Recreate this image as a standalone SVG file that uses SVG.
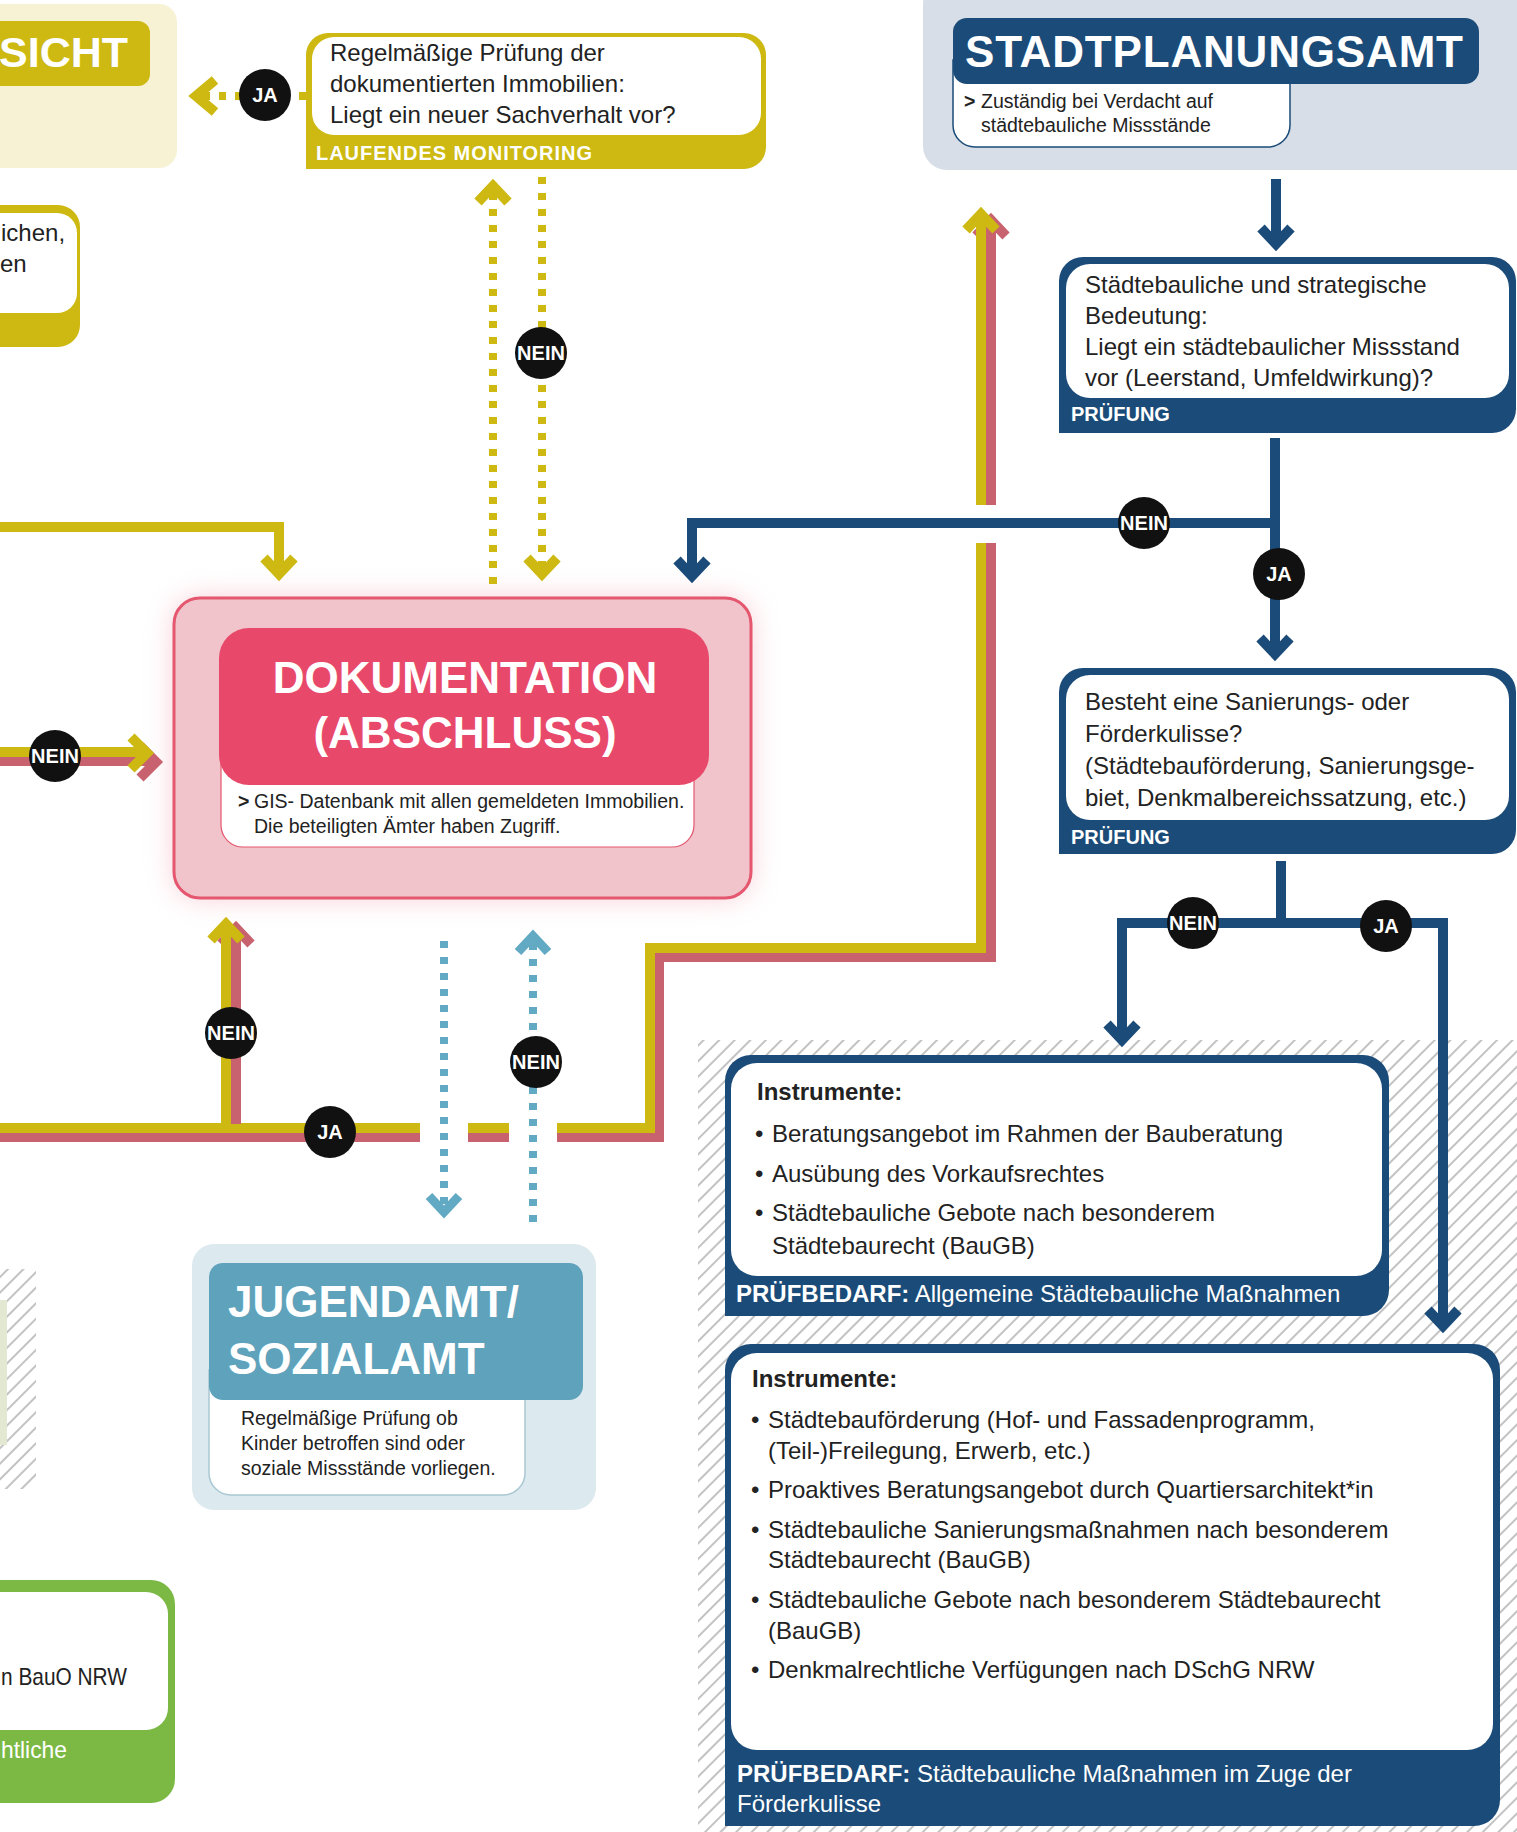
<svg xmlns="http://www.w3.org/2000/svg" width="1517" height="1832" viewBox="0 0 1517 1832">
<defs>
<pattern id="hatch" patternUnits="userSpaceOnUse" width="11" height="11" patternTransform="rotate(45)"><line x1="1" y1="0" x2="1" y2="11" stroke="#bcbcbc" stroke-width="1.8"/></pattern>
<filter id="glow" x="-20%" y="-20%" width="140%" height="140%"><feGaussianBlur stdDeviation="14"/></filter>
</defs>
<style>
text{font-family:"Liberation Sans",Arial,sans-serif;}
.b{font-size:24px;fill:#222;}
.bb{font-size:24px;fill:#222;font-weight:bold;}
.s{font-size:19.5px;fill:#222;}
.lb{font-size:20px;font-weight:bold;fill:#fff;}
.t{font-weight:bold;fill:#fff;}
.c{font-size:20px;font-weight:bold;fill:#fff;text-anchor:middle;}
.ol{stroke:#cdb911;fill:none;stroke-width:10;}
.pk{stroke:#c8626f;fill:none;stroke-width:10;}
.bl{stroke:#1b4b78;fill:none;stroke-width:10;}
.odot{stroke:#cdb911;fill:none;stroke-width:8;stroke-dasharray:7 9;}
.bdot{stroke:#62a9c3;fill:none;stroke-width:8;stroke-dasharray:7 9;}
.hd{fill:none;stroke-width:10;stroke-linejoin:miter;stroke-linecap:butt;}
.ho{stroke:#cdb911;}
.hp{stroke:#c8626f;}
.hb{stroke:#1b4b78;}
.ht{stroke:#62a9c3;stroke-width:9;}
.dot{fill:#111;}
.olf{fill:#cdb911;}
.blf{fill:#1b4b78;}
</style>

<!-- background hatch areas -->
<rect x="698" y="1040" width="830" height="800" fill="url(#hatch)"/>
<rect x="-5" y="1269" width="41" height="220" fill="url(#hatch)"/>
<rect x="-5" y="1300" width="12" height="145" fill="#e3e8d3"/>

<g id="aufsicht">
<rect x="-30" y="4" width="207" height="164" rx="18" fill="#f7f2d4"/>
<rect x="-30" y="21" width="180" height="65" rx="12" class="olf"/>
<text x="-1" y="67" class="t" font-size="43">SICHT</text>
</g>

<g id="left-box">
<path d="M-30 205 H58 A22 22 0 0 1 80 227 V325 A22 22 0 0 1 58 347 H-30 Z" class="olf"/>
<rect x="-30" y="213" width="107" height="100" rx="20" fill="#fff"/>
<text x="1" y="241" class="b">ichen,</text>
<text x="0" y="272" class="b">en</text>
</g>

<g id="monitoring">
<path d="M328 33 H744 A22 22 0 0 1 766 55 V147 A22 22 0 0 1 744 169 H306 V55 A22 22 0 0 1 328 33 Z" class="olf"/>
<rect x="312" y="37" width="449" height="98" rx="22" fill="#fff"/>
<text class="b" x="330" y="61">Regelmäßige Prüfung der</text>
<text class="b" x="330" y="92">dokumentierten Immobilien:</text>
<text class="b" x="330" y="123">Liegt ein neuer Sachverhalt vor?</text>
<text x="316" y="160" class="lb" textLength="276">LAUFENDES MONITORING</text>
</g>

<g id="stadtplanungsamt">
<rect x="923" y="-20" width="620" height="190" rx="24" fill="#d7dee7"/>
<path d="M953 60 H1290 V125 A22 22 0 0 1 1268 147 H975 A22 22 0 0 1 953 125 Z" fill="#fff" stroke="#1b4b78" stroke-width="1.5"/>
<rect x="953" y="18" width="526" height="66" rx="14" class="blf"/>
<text x="965" y="67" class="t" font-size="44" textLength="498">STADTPLANUNGSAMT</text>
<text x="964" y="108" class="s" font-weight="bold">&gt;</text>
<text class="s" x="981" y="108">Zuständig bei Verdacht auf</text>
<text class="s" x="981" y="132">städtebauliche Missstände</text>
</g>

<g id="pruefung-1">
<path d="M1083 257 H1492 A24 24 0 0 1 1516 281 V409 A24 24 0 0 1 1492 433 H1059 V281 A24 24 0 0 1 1083 257 Z" class="blf"/>
<rect x="1066" y="264" width="443" height="134" rx="24" fill="#fff"/>
<text class="b" x="1085" y="293">Städtebauliche und strategische</text>
<text class="b" x="1085" y="324">Bedeutung:</text>
<text class="b" x="1085" y="355">Liegt ein städtebaulicher Missstand</text>
<text class="b" x="1085" y="386">vor (Leerstand, Umfeldwirkung)?</text>
<text x="1071" y="421" class="lb">PRÜFUNG</text>
</g>

<g id="pruefung-2">
<path d="M1083 668 H1492 A24 24 0 0 1 1516 692 V830 A24 24 0 0 1 1492 854 H1059 V692 A24 24 0 0 1 1083 668 Z" class="blf"/>
<rect x="1066" y="675" width="443" height="145" rx="24" fill="#fff"/>
<text class="b" x="1085" y="710">Besteht eine Sanierungs- oder</text>
<text class="b" x="1085" y="742">Förderkulisse?</text>
<text class="b" x="1085" y="774">(Städtebauförderung, Sanierungsge-</text>
<text class="b" x="1085" y="806">biet, Denkmalbereichssatzung, etc.)</text>
<text x="1071" y="844" class="lb">PRÜFUNG</text>
</g>

<g id="dokumentation">
<rect x="174" y="598" width="577" height="300" rx="26" fill="#f2a3b2" opacity="0.55" filter="url(#glow)"/>
<rect x="174" y="598" width="577" height="300" rx="26" fill="#f1c4cc" stroke="#e4576f" stroke-width="3"/>
<path d="M221 760 H694 V825 A22 22 0 0 1 672 847 H243 A22 22 0 0 1 221 825 Z" fill="#fff" stroke="#e4576f" stroke-width="1.2"/>
<rect x="219" y="628" width="490" height="157" rx="30" fill="#e8496a"/>
<text x="465" y="693" class="t" font-size="44" text-anchor="middle">DOKUMENTATION</text>
<text x="465" y="748" class="t" font-size="44" text-anchor="middle">(ABSCHLUSS)</text>
<text x="238" y="808" class="s" font-weight="bold">&gt;</text>
<text x="254" y="808" class="s">GIS- Datenbank mit allen gemeldeten Immobilien.</text>
<text x="254" y="833" class="s">Die beteiligten Ämter haben Zugriff.</text>
</g>

<g id="jugendamt">
<rect x="192" y="1244" width="404" height="266" rx="22" fill="#dce9ee"/>
<path d="M209 1370 H525 V1473 A22 22 0 0 1 503 1495 H231 A22 22 0 0 1 209 1473 Z" fill="#fff" stroke="#a9c8d4" stroke-width="1.5"/>
<rect x="209" y="1263" width="374" height="137" rx="14" fill="#5fa2bb"/>
<text x="228" y="1317" class="t" font-size="44">JUGENDAMT/</text>
<text x="228" y="1374" class="t" font-size="44">SOZIALAMT</text>
<text x="241" y="1425" class="s">Regelmäßige Prüfung ob</text>
<text x="241" y="1450" class="s">Kinder betroffen sind oder</text>
<text x="241" y="1475" class="s">soziale Missstände vorliegen.</text>
</g>

<g id="instrumente-1">
<path d="M751 1055 H1363 A26 26 0 0 1 1389 1081 V1290 A26 26 0 0 1 1363 1316 H725 V1081 A26 26 0 0 1 751 1055 Z" class="blf"/>
<rect x="731" y="1063" width="651" height="213" rx="26" fill="#fff"/>
<text x="757" y="1100" class="bb">Instrumente:</text>
<text x="755" y="1142" class="b">•</text><text x="772" y="1142" class="b">Beratungsangebot im Rahmen der Bauberatung</text>
<text x="755" y="1182" class="b">•</text><text x="772" y="1182" class="b">Ausübung des Vorkaufsrechtes</text>
<text x="755" y="1221" class="b">•</text><text x="772" y="1221" class="b">Städtebauliche Gebote nach besonderem</text>
<text x="772" y="1254" class="b">Städtebaurecht (BauGB)</text>
<text x="736" y="1302" font-size="24" fill="#fff"><tspan font-weight="bold">PRÜFBEDARF:</tspan> Allgemeine Städtebauliche Maßnahmen</text>
</g>

<g id="instrumente-2">
<path d="M751 1344 H1474 A26 26 0 0 1 1500 1370 V1800 A26 26 0 0 1 1474 1826 H725 V1370 A26 26 0 0 1 751 1344 Z" class="blf"/>
<rect x="731" y="1353" width="762" height="397" rx="26" fill="#fff"/>
<text x="752" y="1387" class="bb">Instrumente:</text>
<text x="751" y="1428" class="b">•</text><text x="768" y="1428" class="b">Städtebauförderung (Hof- und Fassadenprogramm,</text>
<text x="768" y="1459" class="b">(Teil-)Freilegung, Erwerb, etc.)</text>
<text x="751" y="1498" class="b">•</text><text x="768" y="1498" class="b">Proaktives Beratungsangebot durch Quartiersarchitekt*in</text>
<text x="751" y="1538" class="b">•</text><text x="768" y="1538" class="b">Städtebauliche Sanierungsmaßnahmen nach besonderem</text>
<text x="768" y="1568" class="b">Städtebaurecht (BauGB)</text>
<text x="751" y="1608" class="b">•</text><text x="768" y="1608" class="b">Städtebauliche Gebote nach besonderem Städtebaurecht</text>
<text x="768" y="1639" class="b">(BauGB)</text>
<text x="751" y="1678" class="b">•</text><text x="768" y="1678" class="b">Denkmalrechtliche Verfügungen nach DSchG NRW</text>
<text x="737" y="1782" font-size="24" fill="#fff"><tspan font-weight="bold">PRÜFBEDARF:</tspan> Städtebauliche Maßnahmen im Zuge der</text>
<text x="737" y="1812" font-size="24" fill="#fff">Förderkulisse</text>
</g>

<g id="bauaufsicht-massnahmen">
<path d="M-30 1580 H151 A24 24 0 0 1 175 1604 V1779 A24 24 0 0 1 151 1803 H-30 Z" fill="#7cb944"/>
<rect x="-30" y="1592" width="198" height="138" rx="22" fill="#fff"/>
<text x="1" y="1685" class="b" textLength="126" lengthAdjust="spacingAndGlyphs">n BauO NRW</text>
<text x="1" y="1758" font-size="24" fill="#fff" textLength="66" lengthAdjust="spacingAndGlyphs">htliche</text>
</g>

<g id="connectors">
<!-- left olive into Dokumentation -->
<path class="ol" d="M-5 527 H279 V572"/>
<path class="hd ho" d="M264 558 L279 574 L294 558"/>
<!-- monitoring JA to left -->
<path class="odot" d="M306 96 H200" stroke-dasharray="5 9"/>
<path class="hd ho" d="M215 80 L196 96 L215 112"/>
<!-- monitoring dotted -->
<path class="odot" d="M493 584 V192"/>
<path class="hd ho" d="M478 202 L493 186 L508 202" stroke-width="9"/>
<path class="odot" d="M542 177 V570"/>
<path class="hd ho" d="M527 558 L542 574 L557 558" stroke-width="9"/>
<!-- big olive/pink loop -->
<path class="pk" d="M-5 1137 H659 V957 H991 V226"/>
<path class="hd hp" d="M976 236 L991 220 L1006 236"/>
<path class="ol" d="M-5 1128 H650 V948 H981 V220"/>
<path class="hd ho" d="M966 230 L981 214 L996 230"/>
<!-- up branch into Dokumentation -->
<path class="pk" d="M236 1124 V934"/>
<path class="hd hp" d="M221 944 L236 928 L251 944"/>
<path class="ol" d="M226 1124 V930"/>
<path class="hd ho" d="M211 940 L226 924 L241 940"/>
<!-- NEIN arrow from left -->
<path class="pk" d="M-5 761 H150"/>
<path class="hd hp" d="M140 746 L156 762 L140 778"/>
<path class="ol" d="M-5 752 H140"/>
<path class="hd ho" d="M131 737 L147 753 L131 769"/>
<!-- crossing gaps -->
<rect x="420" y="1118" width="48" height="26" fill="#fff"/>
<rect x="509" y="1118" width="48" height="26" fill="#fff"/>
<rect x="972" y="505" width="28" height="38" fill="#fff"/>
<!-- blue dotted Jugendamt -->
<path class="bdot" d="M444 941 V1208"/>
<path class="hd ht" d="M429 1196 L444 1212 L459 1196"/>
<path class="bdot" d="M533 1222 V942"/>
<path class="hd ht" d="M518 952 L533 936 L548 952"/>
<!-- blue lines -->
<path class="bl" d="M1276 179 V242"/>
<path class="hd hb" d="M1261 228 L1276 244 L1291 228"/>
<path class="bl" d="M1275 438 V652"/>
<path class="hd hb" d="M1260 638 L1275 654 L1290 638"/>
<path class="bl" d="M1280 523 H692 V574"/>
<path class="hd hb" d="M677 560 L692 576 L707 560"/>
<path class="bl" d="M1281 861 V923"/>
<path class="bl" d="M1122 1038 V923 H1443 V1324"/>
<path class="hd hb" d="M1107 1024 L1122 1040 L1137 1024"/>
<path class="hd hb" d="M1428 1310 L1443 1326 L1458 1310"/>
<!-- decision markers -->
<g><circle cx="265" cy="95" r="26" class="dot"/><text x="265" y="102" class="c">JA</text></g>
<g><circle cx="541" cy="353" r="26" class="dot"/><text x="541" y="360" class="c">NEIN</text></g>
<g><circle cx="1144" cy="523" r="26" class="dot"/><text x="1144" y="530" class="c">NEIN</text></g>
<g><circle cx="1279" cy="574" r="26" class="dot"/><text x="1279" y="581" class="c">JA</text></g>
<g><circle cx="55" cy="756" r="26" class="dot"/><text x="55" y="763" class="c">NEIN</text></g>
<g><circle cx="1193" cy="923" r="26" class="dot"/><text x="1193" y="930" class="c">NEIN</text></g>
<g><circle cx="1386" cy="926" r="26" class="dot"/><text x="1386" y="933" class="c">JA</text></g>
<g><circle cx="231" cy="1033" r="26" class="dot"/><text x="231" y="1040" class="c">NEIN</text></g>
<g><circle cx="330" cy="1132" r="26" class="dot"/><text x="330" y="1139" class="c">JA</text></g>
<g><circle cx="536" cy="1062" r="26" class="dot"/><text x="536" y="1069" class="c">NEIN</text></g>
</g>
</svg>
